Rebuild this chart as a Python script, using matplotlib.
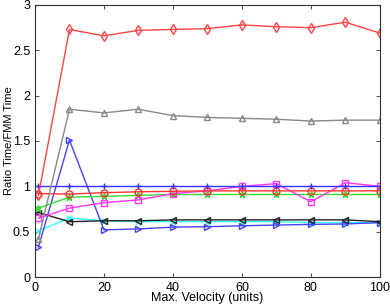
import numpy as np
import matplotlib
matplotlib.use('Agg')
import matplotlib.pyplot as plt

plt.rcParams['font.family'] = ['Liberation Sans', 'DejaVu Sans']

# max velocity values
vel = [1, 10, 20, 30, 40, 50, 60, 70, 80, 90, 100]

# ratio of times per method
red_diamond = [0.90, 2.73, 2.66, 2.72, 2.73, 2.74, 2.78, 2.76, 2.75, 2.81, 2.69]
gray_up = [0.42, 1.85, 1.81, 1.85, 1.78, 1.76, 1.75, 1.74, 1.72, 1.73, 1.73]
blue_plus = [1.0, 1.0, 1.0, 1.0, 1.0, 1.0, 1.0, 1.0, 1.0, 1.0, 1.0]
red_circle = [0.92, 0.915, 0.93, 0.94, 0.945, 0.95, 0.95, 0.95, 0.95, 0.95, 0.95]
green_star = [0.76, 0.88, 0.89, 0.90, 0.91, 0.91, 0.91, 0.91, 0.91, 0.91, 0.91]
magenta_sq = [0.65, 0.76, 0.82, 0.85, 0.92, 0.95, 1.00, 1.03, 0.83, 1.04, 1.00]
black_left = [0.71, 0.61, 0.62, 0.62, 0.63, 0.63, 0.63, 0.63, 0.63, 0.63, 0.61]
cyan_x = [0.51, 0.65, 0.62, 0.61, 0.61, 0.61, 0.61, 0.61, 0.60, 0.60, 0.60]
blue_right = [0.33, 1.51, 0.52, 0.53, 0.55, 0.555, 0.565, 0.573, 0.58, 0.585, 0.60]

fig = plt.figure(figsize=(3.9, 3.04), dpi=100)
ax = fig.add_axes([0.0897, 0.0888, 0.8843, 0.8948])

ms = 5
ax.plot(vel, cyan_x, color='#33ffff', marker='x', ms=ms, lw=1)
ax.plot(vel, blue_right, color='#4444ff', marker='>', ms=ms, lw=1, mfc='none')
ax.plot(vel, black_left, color='#222222', marker='<', ms=ms, lw=1, mfc='none')
ax.plot(vel, green_star, color='#33dd33', marker='*', ms=ms, lw=1)
ax.plot(vel, magenta_sq, color='#ff33ff', marker='s', ms=ms, lw=1, mfc='none')
ax.plot(vel, red_circle, color='#ff3333', marker='o', ms=ms, lw=1, mfc='none')
ax.plot(vel, blue_plus, color='#3333ff', marker='+', ms=ms, lw=1)
ax.plot(vel, gray_up, color='#888888', marker='^', ms=ms, lw=1, mfc='none')
ax.plot(vel, red_diamond, color='#ff4444', marker='d', ms=ms, lw=1, mfc='none')

ax.set_xlim(0, 100)
ax.set_ylim(0, 3)
ax.set_xticks([0, 20, 40, 60, 80, 100])
ax.set_yticks([0, 0.5, 1, 1.5, 2, 2.5, 3])
ax.set_yticklabels(['0', '0.5', '1', '1.5', '2', '2.5', '3'])
ax.tick_params(direction='in', top=True, right=True, labelsize=9, length=3, color='#555555')
for s in ax.spines.values():
    s.set_color('#333333')
ax.set_xlabel('Max. Velocity (units)', fontsize=9, labelpad=-1)
ax.set_ylabel('Ratio Time/FMM Time', fontsize=8)
ax.yaxis.set_label_coords(-0.062, 0.5)

plt.savefig('out.png', dpi=100)
